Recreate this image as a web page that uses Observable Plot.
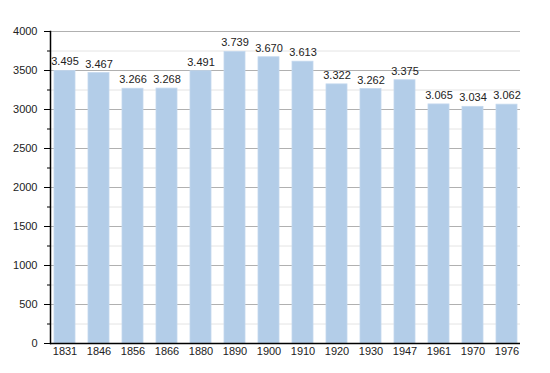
<!DOCTYPE html>
<html>
<head>
<meta charset="utf-8">
<script src="https://cdn.jsdelivr.net/npm/d3@7"></script>
<script src="https://cdn.jsdelivr.net/npm/@observablehq/plot@0.6"></script>
<style>
  html, body { margin: 0; padding: 0; background: #fff; }
  svg { display: block; }
</style>
</head>
<body>
<div id="chart"></div>
<script>
const years = ["1831","1846","1856","1866","1880","1890","1900","1910","1920","1930","1947","1961","1970","1976"];
const population = [3495,3467,3266,3268,3491,3739,3670,3613,3322,3262,3375,3065,3034,3062];
const majorTicks = [0,500,1000,1500,2000,2500,3000,3500,4000];
const minorTicks = [250,750,1250,1750,2250,2750,3250,3750];

const data = years.map((y, i) => ({year: y, pop: population[i]}));
const fmt = d3.formatLocale({thousands: ".", grouping: [3], decimal: ","}).format(",");

const chart = Plot.plot({
  width: 550,
  height: 373,
  marginLeft: 50,
  marginRight: 30,
  marginTop: 31,
  marginBottom: 30,
  style: {fontFamily: "'Liberation Sans', Arial, sans-serif", fontSize: "11px", color: "#222", background: "#fff"},
  x: {domain: years, paddingInner: 0.39, paddingOuter: 0, label: null},
  y: {domain: [0, 4000], label: null},
  marks: [
    Plot.ruleY(minorTicks, {stroke: "#e4e4e4", strokeWidth: 1}),
    Plot.ruleY(majorTicks.filter(d => d > 0), {stroke: "#b0b0b0", strokeWidth: 1}),
    Plot.barY(data, {x: "year", y: "pop", fill: "#b3cde8", stroke: "#c4d8ee", strokeWidth: 0.8}),
    Plot.text(data, {x: "year", y: "pop", text: d => fmt(d.pop), dy: -9, fill: "#222", fontSize: 11}),
    Plot.axisY({ticks: majorTicks, tickSize: 6, tickPadding: 7, tickFormat: d => String(d), stroke: "#000", fill: "#222", fontSize: 11}),
    Plot.axisY({ticks: minorTicks, tickSize: 3, tickFormat: () => "", stroke: "#000"}),
    Plot.axisX({tickSize: 0, tickPadding: 4, fill: "#222", fontSize: 11}),
    Plot.frame({anchor: "left", stroke: "#000", strokeWidth: 1.5}),
    Plot.ruleY([0], {stroke: "#000", strokeWidth: 1.5})
  ]
});
document.getElementById("chart").appendChild(chart);
</script>
</body>
</html>
